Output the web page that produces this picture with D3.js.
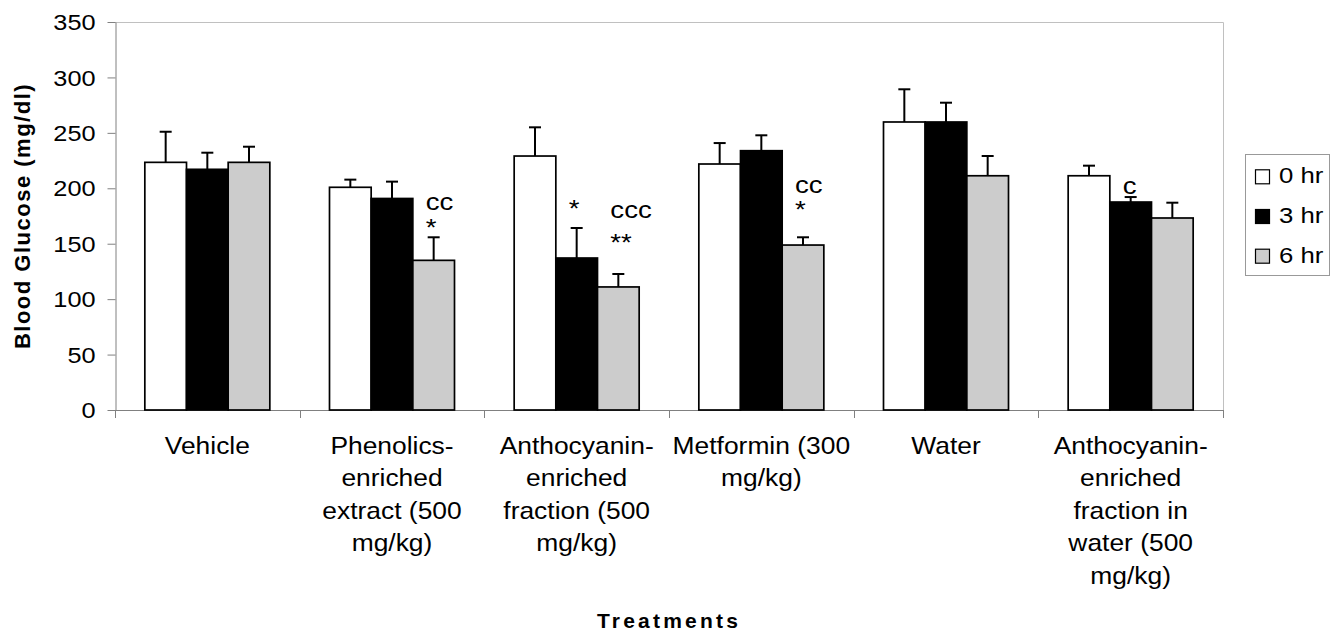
<!DOCTYPE html>
<html>
<head>
<meta charset="utf-8">
<script src="https://cdn.jsdelivr.net/npm/d3@7"></script>
<style>
    body { margin: 0; background: #fff; }
    text { font-family: 'Liberation Sans', Arial, sans-serif; fill: #000; }
</style>
</head>
<body>
<script>
// =======================DATA================================
const categories = [
    ['Vehicle'],
    ['Phenolics-', 'enriched', 'extract (500', 'mg/kg)'],
    ['Anthocyanin-', 'enriched', 'fraction (500', 'mg/kg)'],
    ['Metformin (300', 'mg/kg)'],
    ['Water'],
    ['Anthocyanin-', 'enriched', 'fraction in', 'water (500', 'mg/kg)']
]
const series = ['0 hr', '3 hr', '6 hr']
const means0 = [223.4, 200.9, 229.1, 221.9, 259.8, 211.3]
const means3 = [217.1, 190.8, 137.1, 233.9, 259.8, 187.6]
const means6 = [223.4, 135.0, 111.0, 148.8, 211.3, 173.2]
const errs0 = [27.6, 6.9, 25.9, 18.9, 29.5, 9.1]
const errs3 = [15.0, 15.2, 27.1, 13.9, 17.4, 4.5]
const errs6 = [14.1, 20.8, 11.7, 7.0, 17.8, 13.8]
const yTicks = [0, 50, 100, 150, 200, 250, 300, 350]

// significance marks: category index, series index, lines with y value of baseline
const marks = [
    { cat: 1, ser: 2, lines: [{ text: 'cc', at: 180.4 }, { text: '*', at: 157.4 }] },
    { cat: 2, ser: 1, lines: [{ text: '*', at: 174 }] },
    { cat: 2, ser: 2, lines: [{ text: 'ccc', at: 172.9 }, { text: '**', at: 143 }] },
    { cat: 3, ser: 2, lines: [{ text: 'cc', at: 196 }, { text: '*', at: 173 }] },
    { cat: 5, ser: 1, lines: [{ text: 'c', at: 194.8 }] }
]

const means = [means0, means3, means6]
const errs = [errs0, errs3, errs6]
const colors = ['#ffffff', '#000000', '#cccccc']

const bars = []
categories.forEach((c, i) => {
    series.forEach((s, j) => {
        bars.push({ cat: i, ser: j, value: means[j][i], err: errs[j][i] })
    })
})

// =======================LAYOUT================================
const W = 1342, H = 633
const plot = { left: 115, right: 1223, top: 22, bottom: 410 }

const svg = d3.select('body').append('svg')
    .attr('width', W)
    .attr('height', H)

svg.append('rect').attr('width', W).attr('height', H).attr('fill', '#fff')

const x = d3.scaleBand()
    .domain(d3.range(categories.length))
    .range([plot.left, plot.right])

const xs = d3.scaleBand()
    .domain(d3.range(series.length))
    .range([0, x.bandwidth()])
    .paddingOuter(0.716)

const y = d3.scaleLinear()
    .domain([0, 350])
    .range([plot.bottom, plot.top])

// stretch text horizontally like the original picture
function stretch(sel, sx) {
    sel.each(function () {
        const t = d3.select(this)
        const tx = +t.attr('x') || 0
        const ty = +t.attr('y') || 0
        t.attr('x', null).attr('y', null)
            .attr('transform', 'translate(' + tx + ',' + ty + ') scale(' + sx + ',1)')
    })
}

// plot frame
svg.append('path')
    .attr('d', 'M' + plot.left + ',' + (plot.top + 0.5) + 'H' + (plot.right + 0.5) + 'V' + plot.bottom)
    .attr('fill', 'none')
    .attr('stroke', '#c0c0c0')
    .attr('stroke-width', 1)

// y axis
const yAxis = svg.append('g')
    .attr('transform', 'translate(' + (plot.left + 0.5) + ',0)')
    .call(d3.axisLeft(y).tickValues(yTicks).tickSize(8).tickPadding(12).tickSizeOuter(0))
yAxis.attr('font-family', null)
yAxis.select('.domain').attr('stroke', '#808080')
yAxis.selectAll('.tick line').attr('stroke', '#808080')
yAxis.selectAll('.tick text')
    .attr('font-size', 22)
    .attr('dy', '0.35em')
    .attr('transform', 'scale(1.15,1)')
    .attr('x', -20 / 1.15)

// x axis
const xAxis = svg.append('g')
xAxis.append('line')
    .attr('x1', plot.left).attr('x2', plot.right + 1)
    .attr('y1', plot.bottom + 0.5).attr('y2', plot.bottom + 0.5)
    .attr('stroke', '#808080')
xAxis.selectAll('.xtick')
    .data(d3.range(categories.length + 1))
    .enter().append('line')
    .attr('x1', (d) => Math.round(plot.left + d * x.step()) + 0.5)
    .attr('x2', (d) => Math.round(plot.left + d * x.step()) + 0.5)
    .attr('y1', plot.bottom)
    .attr('y2', plot.bottom + 8)
    .attr('stroke', '#808080')

const labels = xAxis.selectAll('.xlabel')
    .data(categories)
    .enter().append('text')
    .attr('text-anchor', 'middle')
    .attr('font-size', 24)
labels.selectAll('tspan')
    .data((d) => d.map((line, k) => ({ line: line, k: k })))
    .enter().append('tspan')
    .attr('x', 0)
    .attr('y', (d) => d.k * 32.5)
    .text((d) => d.line)
labels.attr('x', (d, i) => x(i) + x.bandwidth() / 2).attr('y', 454)
stretch(labels, 1.1)

// =======================BARS================================
const g = svg.append('g')

g.selectAll('.bar')
    .data(bars)
    .enter().append('rect')
    .attr('class', 'bar')
    .attr('x', (d) => x(d.cat) + xs(d.ser))
    .attr('y', (d) => y(d.value))
    .attr('width', xs.bandwidth())
    .attr('height', (d) => y(0) - y(d.value))
    .attr('fill', (d) => colors[d.ser])
    .attr('stroke', '#000')
    .attr('stroke-width', 1.7)

// error bars, upper half only
const eb = g.selectAll('.err')
    .data(bars)
    .enter().append('g')
    .attr('class', 'err')
    .attr('stroke', '#000')
    .attr('stroke-width', 2)
eb.append('line')
    .attr('x1', (d) => x(d.cat) + xs(d.ser) + xs.bandwidth() / 2)
    .attr('x2', (d) => x(d.cat) + xs(d.ser) + xs.bandwidth() / 2)
    .attr('y1', (d) => y(d.value))
    .attr('y2', (d) => y(d.value + d.err))
eb.append('line')
    .attr('x1', (d) => x(d.cat) + xs(d.ser) + xs.bandwidth() / 2 - 6)
    .attr('x2', (d) => x(d.cat) + xs(d.ser) + xs.bandwidth() / 2 + 6)
    .attr('y1', (d) => y(d.value + d.err))
    .attr('y2', (d) => y(d.value + d.err))

// significance marks, one text per bar
const mk = g.selectAll('.mark')
    .data(marks)
    .enter().append('text')
    .attr('class', 'mark')
    .attr('font-size', 24)
    .attr('transform', (d) => {
        const cx = x(d.cat) + xs(d.ser) + xs.bandwidth() / 2 - 8
        return 'translate(' + cx + ',0) scale(1.15,1)'
    })
mk.selectAll('tspan')
    .data((d) => d.lines)
    .enter().append('tspan')
    .attr('x', 0)
    .attr('y', (d) => y(d.at))
    .text((d) => d.text)

// =======================TITLES================================
svg.append('text')
    .attr('transform', 'translate(30,' + ((plot.top + plot.bottom) / 2) + ') rotate(-90)')
    .attr('text-anchor', 'middle')
    .attr('font-size', 22)
    .attr('font-weight', 'bold')
    .attr('letter-spacing', 1.5)
    .text('Blood Glucose (mg/dl)')

svg.append('text')
    .attr('x', (plot.left + plot.right) / 2)
    .attr('y', 628)
    .attr('text-anchor', 'middle')
    .attr('font-size', 21)
    .attr('font-weight', 'bold')
    .attr('letter-spacing', 3.2)
    .text('Treatments')

// =======================LEGEND================================
const legend = svg.append('g').attr('class', 'legend')
legend.append('rect')
    .attr('x', 1245.5).attr('y', 154.5)
    .attr('width', 84).attr('height', 121)
    .attr('fill', '#fff')
    .attr('stroke', '#999')

const items = legend.selectAll('.item')
    .data(series)
    .enter().append('g')
    .attr('class', 'item')
    .attr('transform', (d, i) => 'translate(1255,' + (183.3 + i * 39.7) + ')')
items.append('rect')
    .attr('x', 0.5).attr('y', -13.5)
    .attr('width', 14).attr('height', 14)
    .attr('fill', (d, i) => colors[i])
    .attr('stroke', '#000')
    .attr('stroke-width', 1.2)
const itemText = items.append('text')
    .attr('x', 24)
    .attr('y', 0)
    .attr('font-size', 23)
    .text((d) => d)
stretch(itemText, 1.12)
</script>
</body>
</html>
